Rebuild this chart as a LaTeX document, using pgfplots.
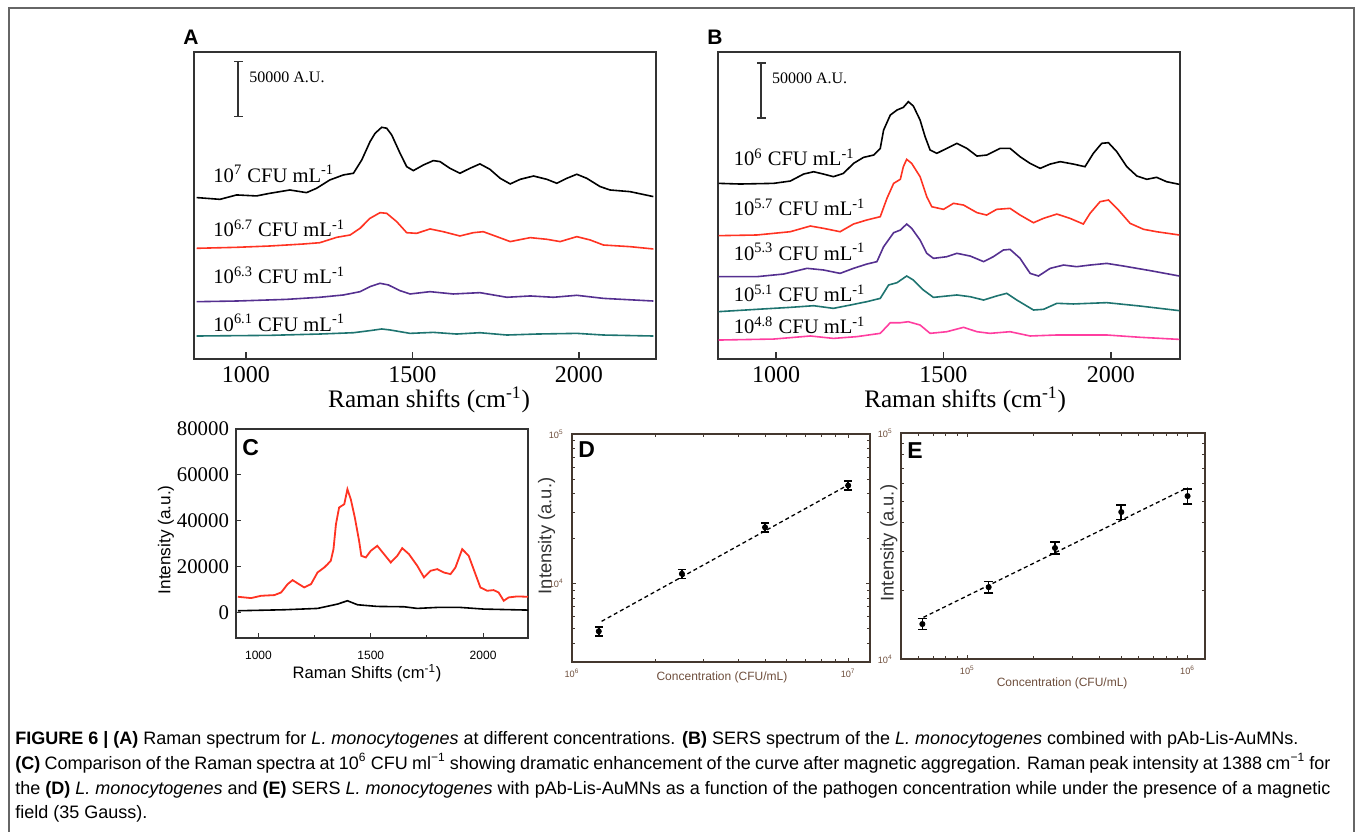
\documentclass[border=0pt]{standalone}
\usepackage{fontspec}
\setmainfont{Liberation Serif}
\setsansfont{Liberation Sans}
\usepackage{pgfplots}
\pgfplotsset{compat=1.18}
\definecolor{spred}{HTML}{FF3322}
\definecolor{sppurple}{HTML}{553090}
\definecolor{spteal}{HTML}{1E7470}
\definecolor{sppink}{HTML}{FF3EA0}
\definecolor{frameA}{HTML}{333333}
\definecolor{brownax}{HTML}{44382F}
\definecolor{browntxt}{HTML}{6E4E3C}
\definecolor{bordergray}{HTML}{666666}
\newcommand{\fs}[1]{\fontsize{#1}{#1}\selectfont}

\pgfplotsset{
  raman/.style={
    scale only axis, width=231pt, height=153.5pt, anchor=south west,
    ymin=0, ymax=279, ytick=\empty,
    xtick={1000,1500,2000}, xticklabels={1000,1500,2000},
    xtick pos=bottom, tick align=inside, major tick length=3.5pt,
    axis line style={frameA, line width=0.9pt},
    tick style={frameA, line width=0.8pt},
    tick label style={font=\fs{12}},
    xticklabel style={inner sep=1pt, yshift=-2.5pt},
    xlabel={Raman shifts (cm\textsuperscript{-1})},
    xlabel style={font=\fs{12.6}, anchor=base, inner sep=0pt},
  },
  spec/.style={line width=0.8pt, no markers},
  scalebar/.style={frameA, line width=0.8pt, mark=-, mark size=2.3pt, mark options={line width=0.8pt}},
  concaxis/.style={
    scale only axis, anchor=south west,
    tick align=inside, major tick length=2pt, minor tick length=1.4pt,
    axis line style={brownax, line width=0.75pt},
    tick style={brownax, line width=0.5pt},
    tick label style={font=\sffamily\fs{4.6}, text=browntxt},
    yticklabel style={xshift=-3pt, inner sep=1pt},
    ylabel={Intensity (a.u.)}, xlabel={Concentration (CFU/mL)},
    ylabel style={font=\sffamily\fs{9.2}, text=black!80, anchor=center, inner sep=0pt},
    xlabel style={font=\sffamily\fs{6}, text=browntxt, anchor=center},
  },
  fitline/.style={black, line width=0.65pt, dash pattern=on 2pt off 1.5pt, no markers},
}

\begin{document}
\begin{tikzpicture}
\path[use as bounding box] (0,0) rectangle (677.5pt,-415.5pt);
\draw[bordergray, line width=0.6pt] (4.5pt,-416pt) -- (4.5pt,-4pt) -- (677pt,-4pt) -- (677pt,-416pt);

% ---------- A ----------
\begin{axis}[raman, at={(97pt,-179.5pt)}, xmin=844, xmax=2232,
  xlabel style={at={(axis description cs:0.509,-0.158)}}]
\addplot[scalebar] coordinates {(977,220.3) (977,270.3)};
\addplot[spec, black] coordinates {
(852,146.7)(922,145.1)(972,149.1)(1032,148.2)(1072,150.6)(1132,153.6)(1182,151.2)(1212,155.1)
(1252,162.7)(1293,167.3)(1323,168.8)(1348,180.9)(1373,197.6)(1388,205.1)(1408,210.6)(1423,209.7)
(1438,203.6)(1463,187.0)(1483,174.8)(1503,171.2)(1533,176.3)(1563,180.3)(1583,179.4)(1613,173.3)
(1643,168.8)(1673,173.3)(1703,177.3)(1733,172.4)(1764,164.2)(1794,159.1)(1824,163.3)(1864,166.3)
(1904,163.3)(1934,159.7)(1964,164.2)(1994,167.9)(2024,164.2)(2064,156.7)(2094,153.6)(2154,152.1)(2224,147.6)};
\addplot[spec, spred] coordinates {
(852,100.6)(972,101.5)(1072,102.7)(1172,104.5)(1222,105.7)(1273,110.6)(1313,112.7)(1343,118.8)
(1373,127.9)(1403,133.0)(1423,132.4)(1453,124.8)(1483,114.8)(1513,114.2)(1553,118.2)(1593,115.7)
(1643,111.8)(1683,114.8)(1713,115.7)(1754,111.2)(1794,106.7)(1854,110.3)(1904,108.8)(1944,106.7)
(1994,111.2)(2034,108.2)(2074,103.6)(2154,102.1)(2224,100.0)};
\addplot[spec, sppurple] coordinates {
(852,52.1)(972,52.7)(1122,54.2)(1222,56.1)(1293,58.2)(1343,61.2)(1373,65.8)(1403,68.8)(1428,67.3)
(1463,62.1)(1493,59.1)(1553,61.2)(1623,59.1)(1703,60.3)(1784,56.1)(1854,57.3)(1924,56.1)(1994,57.9)
(2074,55.1)(2224,52.7)};
\addplot[spec, spteal] coordinates {
(852,20.9)(1072,21.5)(1222,22.7)(1323,23.9)(1373,25.8)(1408,27.3)(1433,26.4)(1493,23.3)(1563,24.2)
(1633,22.7)(1703,23.9)(1784,21.8)(1874,22.7)(1994,23.3)(2074,21.8)(2224,20.9)};
\end{axis}

% ---------- B ----------
\begin{axis}[raman, at={(359pt,-179.5pt)}, xmin=826, xmax=2207, ymax=280,
  xlabel style={at={(axis description cs:0.535,-0.158)}}]
\addplot[scalebar] coordinates {(955,220) (955,270)};
\addplot[spec, black] coordinates {
(828,160.2)(892,159.6)(992,160.2)(1042,162.3)(1082,168.7)(1112,170.8)(1141,168.7)(1171,166.3)
(1201,169.3)(1231,178.4)(1261,183.9)(1291,186.0)(1311,192.1)(1321,208.8)(1341,222.5)(1361,227.1)
(1380,229.5)(1395,234.7)(1410,230.7)(1430,218.0)(1445,202.8)(1460,190.6)(1480,187.6)(1510,192.1)
(1540,196.7)(1570,192.1)(1600,185.1)(1629,186.0)(1669,192.1)(1699,192.1)(1729,184.5)(1759,178.4)
(1789,173.9)(1819,177.8)(1849,180.0)(1888,177.8)(1923,175.4)(1948,187.6)(1973,196.7)(1993,197.3)
(2018,189.1)(2048,175.4)(2078,166.9)(2108,163.9)(2137,165.7)(2167,161.7)(2205,159.3)};
\addplot[spec, spred] coordinates {
(828,112.5)(942,113.1)(1042,116.1)(1102,121.3)(1141,119.2)(1191,116.1)(1231,123.1)(1271,126.8)
(1311,129.8)(1331,146.5)(1351,160.2)(1371,163.9)(1380,175.4)(1390,182.1)(1405,178.4)(1430,166.3)
(1450,148.0)(1465,138.9)(1500,136.5)(1530,142.0)(1560,140.4)(1600,133.5)(1629,131.3)(1659,136.5)
(1699,137.4)(1729,131.3)(1769,124.3)(1799,128.3)(1839,132.2)(1878,128.3)(1918,123.1)(1938,132.8)
(1968,143.5)(1993,145.0)(2023,135.9)(2058,123.7)(2098,118.3)(2137,116.1)(2205,113.1)};
\addplot[spec, sppurple] coordinates {
(828,75.1)(942,75.1)(1022,77.5)(1092,82.7)(1141,81.2)(1191,78.1)(1231,82.7)(1271,86.6)(1301,88.8)
(1321,102.4)(1351,115.2)(1371,117.6)(1390,123.1)(1405,119.2)(1430,108.5)(1450,96.4)(1470,91.8)
(1510,93.3)(1540,96.4)(1580,93.9)(1620,88.8)(1649,93.3)(1679,99.4)(1699,100.0)(1729,91.8)(1759,78.1)
(1784,75.7)(1819,82.7)(1859,85.7)(1898,84.2)(1938,85.7)(1988,87.2)(2038,84.8)(2118,80.6)(2205,75.7)};
\addplot[spec, spteal] coordinates {
(828,43.2)(942,45.3)(1042,47.1)(1112,48.6)(1171,46.2)(1221,49.2)(1271,52.3)(1311,55.3)(1336,67.5)
(1361,69.6)(1390,75.7)(1410,72.0)(1440,62.9)(1470,56.2)(1540,58.4)(1580,56.8)(1620,53.8)(1659,57.5)
(1689,59.9)(1719,53.8)(1769,44.7)(1799,45.3)(1839,50.8)(1888,50.2)(1988,51.4)(2088,48.3)(2205,44.1)};
\addplot[spec, sppink] coordinates {
(828,17.3)(992,18.2)(1102,21.0)(1171,18.8)(1241,20.4)(1311,23.4)(1341,33.1)(1371,33.1)(1395,34.0)
(1430,31.0)(1460,23.4)(1510,24.9)(1560,28.9)(1600,24.9)(1639,23.4)(1699,24.9)(1759,21.0)(1839,21.9)
(1988,21.9)(2088,19.8)(2205,17.9)};
\end{axis}

% ---------- C ----------
\begin{axis}[at={(118pt,-319pt)}, anchor=south west, scale only axis, width=146pt, height=104.5pt,
  xmin=900, xmax=2200, ymin=-11000, ymax=80000,
  xtick={1000,1500,2000}, xticklabels={1000,1500,2000}, minor x tick num=1,
  ytick={0,20000,40000,60000,80000}, yticklabels={0,20000,40000,60000,80000},
  scaled y ticks=false, tick align=inside, xtick pos=bottom, ytick pos=left,
  major tick length=2.5pt, minor tick length=1.5pt,
  axis line style={frameA, line width=0.75pt}, tick style={frameA, line width=0.5pt},
  xticklabel style={font=\sffamily\fs{6}, yshift=-3pt},
  yticklabel style={font=\fs{10.4}},
  xlabel={Raman Shifts (cm\textsuperscript{-1})}, ylabel={Intensity (a.u.)},
  xlabel style={font=\sffamily\fs{8.3}, at={(axis description cs:0.449,-0.167)}, anchor=center},
  ylabel style={font=\sffamily\fs{8.6}, at={(axis description cs:-0.24,0.47)}, anchor=center},
]
\addplot[spec, spred, line width=0.9pt] coordinates {
(908,6960)(967,6380)(1012,7395)(1071,7685)(1101,8845)(1130,12470)(1152,14210)(1175,12760)(1204,11020)
(1234,12470)(1263,17545)(1293,19720)(1308,21170)(1322,22620)(1334,27695)(1345,38570)(1359,45820)
(1382,47270)(1396,53795)(1411,49445)(1429,41470)(1448,31320)(1458,24795)(1478,24070)(1500,26970)
(1529,29145)(1559,25520)(1589,21895)(1618,24795)(1640,28130)(1670,25520)(1707,20445)(1737,15370)
(1766,18270)(1796,18995)(1825,17545)(1855,16820)(1877,19720)(1907,27695)(1936,24795)(1966,16820)
(1988,11020)(2018,9570)(2047,9860)(2069,8845)(2092,5220)(2114,6670)(2151,7105)(2200,6960)};
\addplot[spec, black] coordinates {
(908,870)(1115,1305)(1263,1885)(1352,3770)(1396,5220)(1441,3480)(1529,2755)(1648,2610)(1707,1885)
(1796,2320)(1899,2320)(2003,1595)(2200,1160)};
\end{axis}

% ---------- D ----------
\begin{loglogaxis}[concaxis, at={(286pt,-331pt)}, width=149pt, height=114pt,
  xmin=1e6, xmax=1.2e7, ymin=3000, ymax=1e5,
  xtick={1e6,1e7}, xticklabels={10\textsuperscript{6},10\textsuperscript{7}},
  ytick={1e4,1e5}, yticklabels={10\textsuperscript{4},10\textsuperscript{5}},
  minor xtick={2e6,3e6,4e6,5e6,6e6,7e6,8e6,9e6},
  minor ytick={4000,5000,6000,7000,8000,9000,2e4,3e4,4e4,5e4,6e4,7e4,8e4,9e4},
  ylabel style={at={(axis description cs:-0.085,0.553)}},
  xlabel style={at={(axis description cs:0.503,-0.066)}}]
\addplot[fitline] coordinates {(1.28e6,5610) (1e7,45700)};
\addplot[black, only marks, mark=*, mark size=1.3pt,
  error bars/.cd, y dir=both, y explicit,
  error bar style={line width=0.8pt, black},
  error mark options={rotate=90, black, line width=0.8pt, mark size=2pt}]
  coordinates {(1.25e6,4810) +- (0,340) (2.5e6,11650) +- (0,800) (5e6,23800) +- (0,1700) (1e7,45300) +- (0,3200)};
\end{loglogaxis}

% ---------- E ----------
\begin{loglogaxis}[concaxis, at={(450.5pt,-329.5pt)}, width=152pt, height=113pt,
  xmin=5e4, xmax=1.2e6, ymin=1e4, ymax=1e5,
  xtick={1e5,1e6}, xticklabels={10\textsuperscript{5},10\textsuperscript{6}},
  ytick={1e4,1e5}, yticklabels={10\textsuperscript{4},10\textsuperscript{5}},
  minor xtick={6e4,7e4,8e4,9e4,2e5,3e5,4e5,5e5,6e5,7e5,8e5,9e5},
  minor ytick={2e4,3e4,4e4,5e4,6e4,7e4,8e4,9e4},
  ylabel style={at={(axis description cs:-0.04,0.513)}},
  xlabel style={at={(axis description cs:0.53,-0.106)}}]
\addplot[fitline] coordinates {(6.32e4,15290) (1e6,57300)};
\addplot[black, only marks, mark=*, mark size=1.3pt,
  error bars/.cd, y dir=both, y explicit,
  error bar style={line width=0.8pt, black},
  error mark options={rotate=90, black, line width=0.8pt, mark size=2.4pt}]
  coordinates {(62500,14280) +- (0,800) (125000,20800) +- (0,1250) (250000,31000) +- (0,1900) (500000,44700) +- (0,3300) (1e6,52600) +- (0,4000)};
\end{loglogaxis}

% ---------- text ----------
\begin{scope}[every node/.style={anchor=base west, inner sep=0pt}]
\node[font=\fs{10.3}] at (106.5pt,-91pt) {10\textsuperscript{7} CFU mL\textsuperscript{-1}};
\node[font=\fs{10.3}] at (106.5pt,-118.3pt) {10\textsuperscript{6.7} CFU mL\textsuperscript{-1}};
\node[font=\fs{10.3}] at (106.5pt,-141.7pt) {10\textsuperscript{6.3} CFU mL\textsuperscript{-1}};
\node[font=\fs{10.3}] at (106.5pt,-165.5pt) {10\textsuperscript{6.1} CFU mL\textsuperscript{-1}};
\node[font=\fs{8}] at (124.5pt,-41pt) {50000 A.U.};
\node[font=\fs{10.3}] at (366.7pt,-82.8pt) {10\textsuperscript{6} CFU mL\textsuperscript{-1}};
\node[font=\fs{10.3}] at (366.7pt,-107.8pt) {10\textsuperscript{5.7} CFU mL\textsuperscript{-1}};
\node[font=\fs{10.3}] at (366.7pt,-130pt) {10\textsuperscript{5.3} CFU mL\textsuperscript{-1}};
\node[font=\fs{10.3}] at (366.7pt,-150.8pt) {10\textsuperscript{5.1} CFU mL\textsuperscript{-1}};
\node[font=\fs{10.3}] at (366.7pt,-166.7pt) {10\textsuperscript{4.8} CFU mL\textsuperscript{-1}};
\node[font=\fs{8}] at (385.8pt,-41.7pt) {50000 A.U.};
\node[font=\sffamily\bfseries\fs{10.5}] at (91.5pt,-22pt) {A};
\node[font=\sffamily\bfseries\fs{10.5}] at (353.5pt,-22pt) {B};
\node[font=\sffamily\bfseries\fs{11.5}] at (121pt,-227.5pt) {C};
\node[font=\sffamily\bfseries\fs{11.5}] at (289pt,-228.5pt) {D};
\node[font=\sffamily\bfseries\fs{11.5}] at (453.5pt,-229pt) {E};
\node[font=\sffamily\fs{9}] at (7.5pt,-372pt) {\textbf{FIGURE 6 | (A)} Raman spectrum for \textit{L. monocytogenes} at different concentrations. \textbf{(B)} SERS spectrum of the \textit{L. monocytogenes} combined with pAb-Lis-AuMNs.};
\node[font=\sffamily\fs{9}] at (7.5pt,-384.5pt) {\makebox[657.5pt][s]{\textbf{(C)} Comparison of the Raman spectra at 10\textsuperscript{6} CFU ml\textsuperscript{−1} showing dramatic enhancement of the curve after magnetic aggregation. Raman peak intensity at 1388 cm\textsuperscript{−1} for}};
\node[font=\sffamily\fs{9}] at (7.5pt,-397pt) {\makebox[657.5pt][s]{the \textbf{(D)} \textit{L. monocytogenes} and \textbf{(E)} SERS \textit{L. monocytogenes} with pAb-Lis-AuMNs as a function of the pathogen concentration while under the presence of a magnetic}};
\node[font=\sffamily\fs{9}] at (7.5pt,-409pt) {field (35 Gauss).};
\end{scope}
\end{tikzpicture}
\end{document}
